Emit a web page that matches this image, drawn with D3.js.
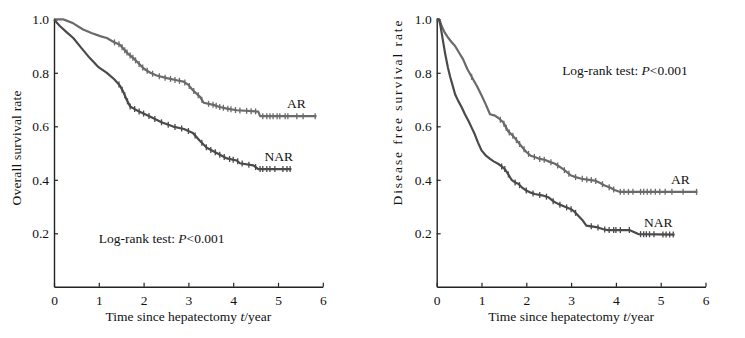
<!DOCTYPE html>
<meta charset="utf-8">
<script src="https://d3js.org/d3.v7.min.js"></script>
<style>
  body { margin: 0; background: #fff; }
  text { font-family: "Liberation Serif", "Times New Roman", serif; font-size: 13.5px; fill: #111; }
</style>
<body>
<div id="canvas"></div>
<script>

// tick labels
var xTicks = [0, 1, 2, 3, 4, 5, 6];
var yTicks = [0.2, 0.4, 0.6, 0.8, 1.0];

// overall survival, [years, rate]
var osAR = [[0,1],[0.2,1],[0.28,0.995],[0.43,0.985],[0.65,0.962],[0.85,0.948],[1.03,0.937],[1.18,0.93],[1.33,0.915],[1.47,0.905],[1.55,0.89],[1.65,0.872],[1.77,0.855],[1.92,0.83],[2.0,0.816],[2.15,0.80],[2.29,0.79],[2.52,0.78],[2.74,0.772],[2.89,0.767],[3.0,0.755],[3.1,0.735],[3.26,0.71],[3.34,0.688],[3.56,0.68],[3.7,0.672],[3.86,0.666],[4.08,0.66],[4.56,0.655],[4.6,0.638],[5.86,0.638]];
var osNAR = [[0,1],[0.05,0.99],[0.13,0.975],[0.28,0.952],[0.43,0.93],[0.6,0.895],[0.8,0.855],[1.0,0.82],[1.18,0.80],[1.35,0.775],[1.47,0.752],[1.55,0.728],[1.62,0.70],[1.7,0.674],[1.9,0.655],[2.14,0.637],[2.4,0.615],[2.66,0.599],[2.9,0.59],[3.1,0.575],[3.26,0.545],[3.41,0.52],[3.63,0.50],[3.86,0.48],[4.08,0.472],[4.15,0.462],[4.45,0.454],[4.56,0.44],[5.3,0.44]];

// disease free survival, [years, rate]
var dfsAR = [[0,1],[0.05,1],[0.08,0.99],[0.11,0.975],[0.18,0.95],[0.26,0.93],[0.33,0.915],[0.41,0.90],[0.5,0.875],[0.59,0.85],[0.68,0.815],[0.78,0.785],[0.9,0.75],[1.0,0.716],[1.1,0.68],[1.19,0.645],[1.3,0.64],[1.37,0.632],[1.48,0.616],[1.6,0.58],[1.7,0.565],[1.82,0.54],[1.92,0.52],[2.0,0.504],[2.1,0.49],[2.19,0.485],[2.3,0.478],[2.41,0.475],[2.52,0.467],[2.64,0.46],[2.75,0.448],[2.86,0.435],[3.0,0.416],[3.1,0.41],[3.23,0.404],[3.4,0.40],[3.53,0.397],[3.65,0.388],[3.75,0.379],[3.88,0.37],[3.97,0.362],[4.08,0.355],[5.82,0.355]];
var dfsNAR = [[0,1],[0.05,1],[0.08,0.98],[0.11,0.95],[0.15,0.91],[0.19,0.87],[0.25,0.82],[0.30,0.785],[0.36,0.75],[0.41,0.72],[0.48,0.695],[0.56,0.67],[0.63,0.645],[0.71,0.62],[0.78,0.595],[0.85,0.57],[0.92,0.54],[1.0,0.51],[1.1,0.49],[1.19,0.478],[1.28,0.468],[1.37,0.46],[1.45,0.45],[1.52,0.44],[1.6,0.42],[1.67,0.40],[1.75,0.39],[1.82,0.385],[1.9,0.372],[2.0,0.36],[2.1,0.352],[2.19,0.347],[2.35,0.342],[2.49,0.335],[2.6,0.32],[2.71,0.31],[2.85,0.30],[3.0,0.29],[3.08,0.28],[3.16,0.266],[3.25,0.25],[3.34,0.229],[3.45,0.226],[3.6,0.222],[3.72,0.215],[3.82,0.212],[4.3,0.212],[4.4,0.205],[4.5,0.197],[5.31,0.195]];

// censored times (years)
var osARcens = [1.35,1.45,1.52,1.58,1.63,1.7,1.76,1.82,1.9,1.98,2.08,2.2,2.35,2.48,2.6,2.7,2.8,2.92,3.02,3.12,3.22,3.3,3.45,3.55,3.62,3.7,3.78,3.88,3.95,4.05,4.15,4.3,4.4,4.5,4.66,4.75,4.82,4.89,4.98,5.04,5.16,5.22,5.42,5.56,5.83];
var osNARcens = [1.45,1.52,1.58,1.64,1.7,1.8,1.9,2.0,2.12,2.25,2.4,2.55,2.7,2.85,3.0,3.15,3.3,3.4,3.5,3.6,3.7,3.8,3.92,4.0,4.1,4.2,4.35,4.5,4.6,4.66,4.75,4.82,4.93,5.11,5.2,5.27];
var dfsARcens = [0.78,1.42,1.5,1.55,1.62,1.7,1.78,1.85,1.95,2.05,2.18,2.3,2.4,2.55,2.7,2.85,2.95,3.1,3.25,3.35,3.45,3.55,3.7,3.85,3.95,4.1,4.18,4.28,4.38,4.55,4.62,4.7,4.78,4.88,4.98,5.1,5.25,5.5,5.8];
var dfsNARcens = [1.45,1.52,1.6,1.75,1.85,2.0,2.15,2.3,2.45,2.6,2.75,2.9,3.0,3.1,3.45,3.6,3.75,3.85,3.95,4.0,4.1,4.3,4.55,4.62,4.68,4.75,4.85,5.05,5.12,5.2,5.28];

var width = 745, height = 338;
var svg = d3.select('#canvas').append('svg')
    .attr('width', width)
    .attr('height', height);

function drawPanel(p) {
    var x = d3.scaleLinear().domain([0, 6]).range([p.left, p.left + 268.8]);
    var y = d3.scaleLinear().domain([0, 1]).range([286.8, 19.3]);
    var g = svg.append('g');

    // axes, ticks pointing inward
    var xAxis = d3.axisBottom(x).tickValues(xTicks).tickSize(-4).tickSizeOuter(0).tickPadding(9)
        .tickFormat(d3.format('d'));
    g.append('g').attr('transform', 'translate(0,' + y(0) + ')').call(xAxis);
    var yAxis = d3.axisLeft(y).tickValues(yTicks).tickSize(-4).tickSizeOuter(0).tickPadding(5)
        .tickFormat(d3.format('.1f'));
    g.append('g').attr('transform', 'translate(' + x(0) + ',0)').call(yAxis);
    g.selectAll('.domain').attr('stroke', '#222').attr('stroke-width', 1.4);
    g.selectAll('.tick line').attr('stroke', '#222').attr('stroke-width', 1.2);
    g.selectAll('.tick text').style('font-family', '"Liberation Serif", serif').style('font-size', '13.5px').attr('fill', '#111');

    // curves
    var line = d3.line().x(function(d) { return x(d[0]); }).y(function(d) { return y(d[1]); });
    p.series.forEach(function(s) {
        g.append('path').datum(s.data)
            .attr('d', line)
            .attr('fill', 'none')
            .attr('stroke', s.color)
            .attr('stroke-width', 2.2)
            .attr('stroke-linejoin', 'round');
        var at = function(t) {
            for (var i = 1; i < s.data.length; i++) {
                if (s.data[i][0] >= t) {
                    var a = s.data[i - 1], b = s.data[i];
                    return a[1] + (b[1] - a[1]) * (t - a[0]) / (b[0] - a[0]);
                }
            }
            return s.data[s.data.length - 1][1];
        };
        g.selectAll(null).data(s.cens).enter().append('line')
            .attr('x1', function(t) { return x(t); })
            .attr('x2', function(t) { return x(t); })
            .attr('y1', function(t) { return y(at(t)) - 3; })
            .attr('y2', function(t) { return y(at(t)) + 3; })
            .attr('stroke', s.color)
            .attr('stroke-width', 1.3);
    });

    // labels
    g.append('text')
        .attr('x', x(3)).attr('y', 321)
        .attr('text-anchor', 'middle')
        .html('Time since hepatectomy <tspan font-style="italic">t</tspan>/year');
    var yl = g.append('text')
        .attr('transform', 'translate(' + p.ylabX + ',' + p.ylabY + ') rotate(-90)')
        .attr('text-anchor', 'middle')
        .text(p.ylabel);
    if (p.ylabLen) yl.attr('textLength', p.ylabLen).attr('lengthAdjust', 'spacing');
    p.notes.forEach(function(n) {
        g.append('text').attr('x', x(n[0])).attr('y', y(n[1])).html(n[2]);
    });
}

drawPanel({
    left: 54,
    ylabel: 'Overall survival rate', ylabX: 21, ylabY: 148, ylabLen: 115,
    series: [
        {data: osAR, cens: osARcens, color: '#6a6a6a'},
        {data: osNAR, cens: osNARcens, color: '#4a4a4a'}
    ],
    notes: [
        [5.2, 0.67, 'AR'],
        [4.7, 0.47, 'NAR'],
        [1.0, 0.164, 'Log-rank test: <tspan font-style="italic">P</tspan>&lt;0.001']
    ]
});

drawPanel({
    left: 436.7,
    ylabel: 'Disease free survival rate', ylabX: 402, ylabY: 113, ylabLen: 185,
    series: [
        {data: dfsAR, cens: dfsARcens, color: '#6a6a6a'},
        {data: dfsNAR, cens: dfsNARcens, color: '#4a4a4a'}
    ],
    notes: [
        [5.23, 0.385, 'AR'],
        [4.63, 0.225, 'NAR'],
        [2.8, 0.793, 'Log-rank test: <tspan font-style="italic">P</tspan>&lt;0.001']
    ]
});

</script>
</body>
